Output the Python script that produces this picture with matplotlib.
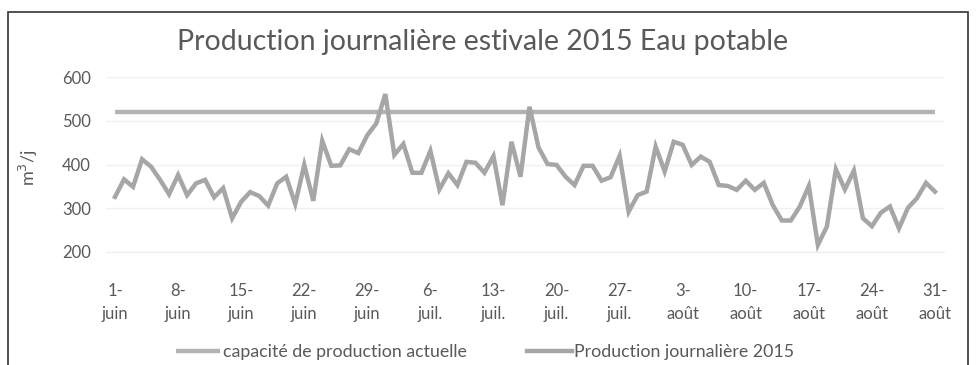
import matplotlib.pyplot as plt
from matplotlib.patches import Rectangle

# Daily production, 1 June -> 31 August 2015 (m3/day)
production = [326, 366, 349, 412, 395, 365, 332, 376, 330, 357,
              365, 325, 346, 277, 315, 337, 328, 306, 357, 372,
              310, 399, 317, 454, 397, 398, 435, 426, 467, 494,
              561, 422, 447, 381, 381, 431, 343, 380, 353, 406,
              404, 381, 419, 307, 452, 372, 532, 439, 401, 399,
              372, 353, 397, 397, 363, 371, 420, 292, 330, 338,
              441, 384, 452, 445, 399, 418, 406, 353, 351, 342,
              363, 342, 358, 307, 272, 272, 304, 351, 216, 258,
              389, 343, 386, 277, 259, 290, 304, 254, 301, 323,
              358, 338]
capacity = 520

tick_labels = ['1-\njuin', '8-\njuin', '15-\njuin', '22-\njuin', '29-\njuin',
               '6-\njuil.', '13-\njuil.', '20-\njuil.', '27-\njuil.',
               '3-\naoût', '10-\naoût', '17-\naoût', '24-\naoût', '31-\naoût']

plt.rcParams['font.family'] = ['Lato', 'DejaVu Sans']
txt = '#595959'

fig = plt.figure(figsize=(9.76, 3.65), dpi=100)
ax = fig.add_axes([106 / 976, 1 - 252 / 365, 838 / 976, 175 / 365])

days = list(range(len(production)))
ax.plot(days, [capacity] * len(days), color='#b3b3b3', lw=3.2,
        label='capacité de production actuelle', solid_capstyle='butt')
ax.plot(days, production, color='#a6a6a6', lw=3.2,
        label='Production journalière 2015', solid_joinstyle='miter')

ax.set_xlim(-1, 92)
ax.set_ylim(200, 600)
ax.set_yticks([200, 300, 400, 500, 600])
ax.set_xticks(days[::7])
ax.set_xticklabels(tick_labels, linespacing=1.6)
ax.tick_params(axis='x', length=0, pad=22, labelsize=12, labelcolor=txt)
ax.tick_params(axis='y', length=0, pad=11, labelsize=12, labelcolor=txt)
ax.grid(axis='y', color='#f0f0f0', lw=1)
for s in ['top', 'right', 'left']:
    ax.spines[s].set_visible(False)
ax.spines['bottom'].set_color('#eeeeee')
ax.set_axisbelow(True)

# y label sits left of the tick labels
ax.set_ylabel('m$^3$/j', fontsize=13, color=txt)
ax.yaxis.set_label_coords((40 - 106) / 838, (252 - 168) / 175)

fig.text(483 / 976, 1 - 42 / 365, 'Production journalière estivale 2015 Eau potable',
         ha='center', va='center', fontsize=20.5, color=txt)

fig.legend(loc='center', bbox_to_anchor=(485 / 976, 1 - 352 / 365), ncol=2,
           frameon=False, fontsize=12.8, labelcolor=txt, handlelength=2.5,
           handletextpad=0.15, columnspacing=3.4)

# black frame round the chart (bottom edge cut off in the original)
fig.patches.append(Rectangle((8 / 976, -0.1), 960 / 976, 1.1 - 12 / 365,
                             transform=fig.transFigure, fill=False,
                             edgecolor='#333333', lw=1.2))

plt.savefig('out.png', dpi=100)
